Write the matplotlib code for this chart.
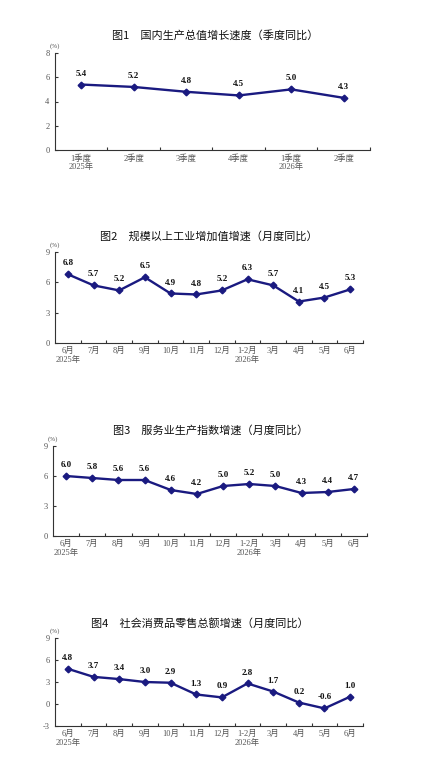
import numpy as np
import matplotlib
matplotlib.use("Agg")
import matplotlib.pyplot as plt
import matplotlib.ticker as tck

plt.rcParams['font.family'] = ['Liberation Serif', 'Noto Sans CJK SC']

# Chart data
titles = [
    "图1　国内生产总值增长速度（季度同比）",
    "图2　规模以上工业增加值增速（月度同比）",
    "图3　服务业生产指数增速（月度同比）",
    "图4　社会消费品零售总额增速（月度同比）",
]

quarters = ["1季度\n2025年", "2季度", "3季度", "4季度", "1季度\n2026年", "2季度"]
gdp = [5.4, 5.2, 4.8, 4.5, 5.0, 4.3]

months = ["6月\n2025年", "7月", "8月", "9月", "10月", "11月", "12月",
          "1-2月\n2026年", "3月", "4月", "5月", "6月"]
industry = [6.8, 5.7, 5.2, 6.5, 4.9, 4.8, 5.2, 6.3, 5.7, 4.1, 4.5, 5.3]
services = [6.0, 5.8, 5.6, 5.6, 4.6, 4.2, 5.0, 5.2, 5.0, 4.3, 4.4, 4.7]
retail = [4.8, 3.7, 3.4, 3.0, 2.9, 1.3, 0.9, 2.8, 1.7, 0.2, -0.6, 1.0]

yticks_list = [[0, 2, 4, 6, 8], [0, 3, 6, 9], [0, 3, 6, 9], [-3, 0, 3, 6, 9]]
series = [(quarters, gdp), (months, industry), (months, services), (months, retail)]

W, H = 431, 771
# axes boxes in pixels: left, right, top, bottom
boxes = [(55, 370, 53, 150), (55, 363, 252, 343), (53, 367, 446, 536), (55, 363, 638, 726)]
title_y = [35, 236, 430, 623]
title_x = [215, 209, 211, 200]

LINE = "#1a1a80"
AXIS = "#333333"
TXT = "#555555"

fig = plt.figure(figsize=(W / 100, H / 100), dpi=100)

for i, ((cats, vals), yt, box) in enumerate(zip(series, yticks_list, boxes)):
    l, r, t, b = box
    ax = fig.add_axes([l / W, 1 - b / H, (r - l) / W, (b - t) / H])
    x = np.arange(len(cats))
    ax.plot(x, vals, color=LINE, lw=1.7, marker="D", ms=3.4, zorder=3)
    for xi, v in zip(x, vals):
        ax.annotate("%.1f" % v, (xi, v), xytext=(0, 5), textcoords="offset points",
                    ha="center", va="bottom", fontsize=6.5, fontweight="bold", color="#111111")

    ax.set_xlim(-0.5, len(cats) - 0.5)
    ax.set_ylim(yt[0], yt[-1])
    ax.set_yticks(yt)
    ax.yaxis.set_major_formatter(tck.FuncFormatter(lambda v, p: "%d" % v))

    ax.xaxis.set_major_locator(tck.FixedLocator(np.arange(0.5, len(cats), 1.0)))
    ax.xaxis.set_major_formatter(tck.NullFormatter())
    ax.xaxis.set_minor_locator(tck.FixedLocator(x))
    ax.xaxis.set_minor_formatter(tck.FixedFormatter(cats))
    ax.tick_params(axis="x", which="major", direction="in", length=2.5, width=0.8, color=AXIS)
    ax.tick_params(axis="x", which="minor", length=0, pad=3, labelsize=6, labelcolor=TXT)
    ax.tick_params(axis="y", direction="in", length=2.5, width=0.8, color=AXIS,
                   labelsize=6, labelcolor=TXT, pad=4)
    for lab in ax.xaxis.get_minorticklabels():
        lab.set_linespacing(1.1)

    for s in ("top", "right"):
        ax.spines[s].set_visible(False)
    for s in ("left", "bottom"):
        ax.spines[s].set_color(AXIS)
        ax.spines[s].set_linewidth(0.8)

    ax.text(0, 1.04, "(%)", transform=ax.transAxes, ha="center", va="bottom",
            fontsize=5, color=TXT)

    fig.text(title_x[i] / W, 1 - title_y[i] / H, titles[i], ha="center", va="center",
             fontsize=8, family="Noto Sans CJK SC", fontweight="medium", color="#111111")

fig.savefig("out.png", dpi=100)
